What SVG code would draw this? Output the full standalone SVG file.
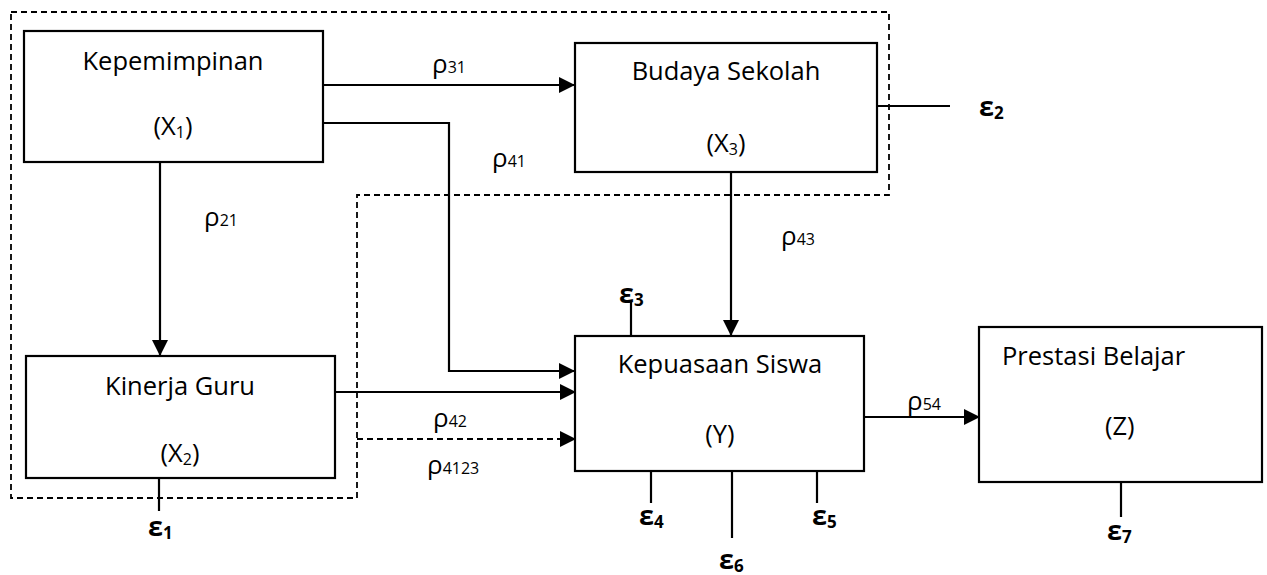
<svg xmlns="http://www.w3.org/2000/svg" width="1267" height="575" viewBox="0 0 1267 575">
<style>
.box{fill:#fff;stroke:#000;stroke-width:2.2}
.ln{fill:none;stroke:#000;stroke-width:2.2}
.dash{fill:none;stroke:#000;stroke-width:1.8;stroke-dasharray:6,4}
.t{font-family:"Open Sans","Noto Sans",sans-serif;font-size:25.5px;fill:#000}
.r{font-family:"Open Sans","Noto Sans",sans-serif;font-size:26px;fill:#000}
.e{font-family:"Open Sans","Noto Sans",sans-serif;font-size:27px;font-weight:bold;fill:#000}
.s{font-size:16px}
.es{font-size:17px}
</style>
<defs>
<marker id="arr" markerUnits="userSpaceOnUse" markerWidth="16" markerHeight="16" viewBox="0 0 16 16" refX="16" refY="8" orient="auto">
<path d="M0,0 L16,8 L0,16 Z" fill="#000"/>
</marker>
</defs>
<g id="frame">
<path class="dash" d="M11,12 H889 V195 H357 V498 H11 Z"/>
</g>
<g id="connectors">
<path class="ln" d="M323,85 H575" marker-end="url(#arr)"/>
<path class="ln" d="M323,123 H449 V371 H575" marker-end="url(#arr)"/>
<path class="ln" d="M160,162 V356" marker-end="url(#arr)"/>
<path class="ln" d="M333,392 H576" marker-end="url(#arr)"/>
<path class="dash" style="stroke-width:2.2" d="M357,439 H576" marker-end="url(#arr)"/>
<path class="ln" d="M731,172 V336" marker-end="url(#arr)"/>
<path class="ln" d="M864,417 H980" marker-end="url(#arr)"/>
<path class="ln" d="M877,106 H950"/>
<path class="ln" d="M631,302 V336"/>
<path class="ln" d="M651,471 V503"/>
<path class="ln" d="M732,468 V538"/>
<path class="ln" d="M817,471 V503"/>
<path class="ln" d="M1121,482 V517"/>
<path class="ln" d="M159,478 V511"/>
</g>
<g id="kepemimpinan">
<rect class="box" x="24" y="31" width="299" height="131"/>
<text class="t" x="173" y="70" text-anchor="middle">Kepemimpinan</text>
<text class="t" x="173" y="135" text-anchor="middle">(X<tspan class="s" dy="3">1</tspan><tspan dy="-3">)</tspan></text>
</g>
<g id="budaya">
<rect class="box" x="575" y="43" width="302" height="129"/>
<text class="t" x="726" y="80" text-anchor="middle">Budaya Sekolah</text>
<text class="t" x="726" y="152" text-anchor="middle">(X<tspan class="s" dy="3">3</tspan><tspan dy="-3">)</tspan></text>
</g>
<g id="kinerja">
<rect class="box" x="26" y="356" width="309" height="122"/>
<text class="t" x="180" y="395" text-anchor="middle">Kinerja Guru</text>
<text class="t" x="180" y="462" text-anchor="middle">(X<tspan class="s" dy="3">2</tspan><tspan dy="-3">)</tspan></text>
</g>
<g id="kepuasaan">
<rect class="box" x="575" y="336" width="289" height="135"/>
<text class="t" x="720" y="373" text-anchor="middle">Kepuasaan Siswa</text>
<text class="t" x="720" y="443" text-anchor="middle">(Y)</text>
</g>
<g id="prestasi">
<rect class="box" x="979" y="327" width="283" height="155"/>
<text class="t" x="1002" y="365">Prestasi Belajar</text>
<text class="t" x="1105" y="435">(Z)</text>
</g>
<g id="labels">
<text class="r" x="432" y="73">ρ<tspan class="s">31</tspan></text>
<text class="r" x="492" y="167">ρ<tspan class="s">41</tspan></text>
<text class="r" x="204" y="226">ρ<tspan class="s">21</tspan></text>
<text class="r" x="781" y="245">ρ<tspan class="s">43</tspan></text>
<text class="r" x="433" y="427">ρ<tspan class="s">42</tspan></text>
<text class="r" x="427" y="474">ρ<tspan class="s">4123</tspan></text>
<text class="r" x="907" y="410">ρ<tspan class="s">54</tspan></text>
<text class="e" x="979" y="116">ε<tspan class="es" dy="3">2</tspan></text>
<text class="e" x="619" y="303">ε<tspan class="es" dy="3">3</tspan></text>
<text class="e" x="639" y="525">ε<tspan class="es" dy="3">4</tspan></text>
<text class="e" x="812" y="525">ε<tspan class="es" dy="3">5</tspan></text>
<text class="e" x="719" y="569">ε<tspan class="es" dy="3">6</tspan></text>
<text class="e" x="1107" y="540">ε<tspan class="es" dy="3">7</tspan></text>
<text class="e" x="148" y="536">ε<tspan class="es" dy="3">1</tspan></text>
</g>
</svg>
